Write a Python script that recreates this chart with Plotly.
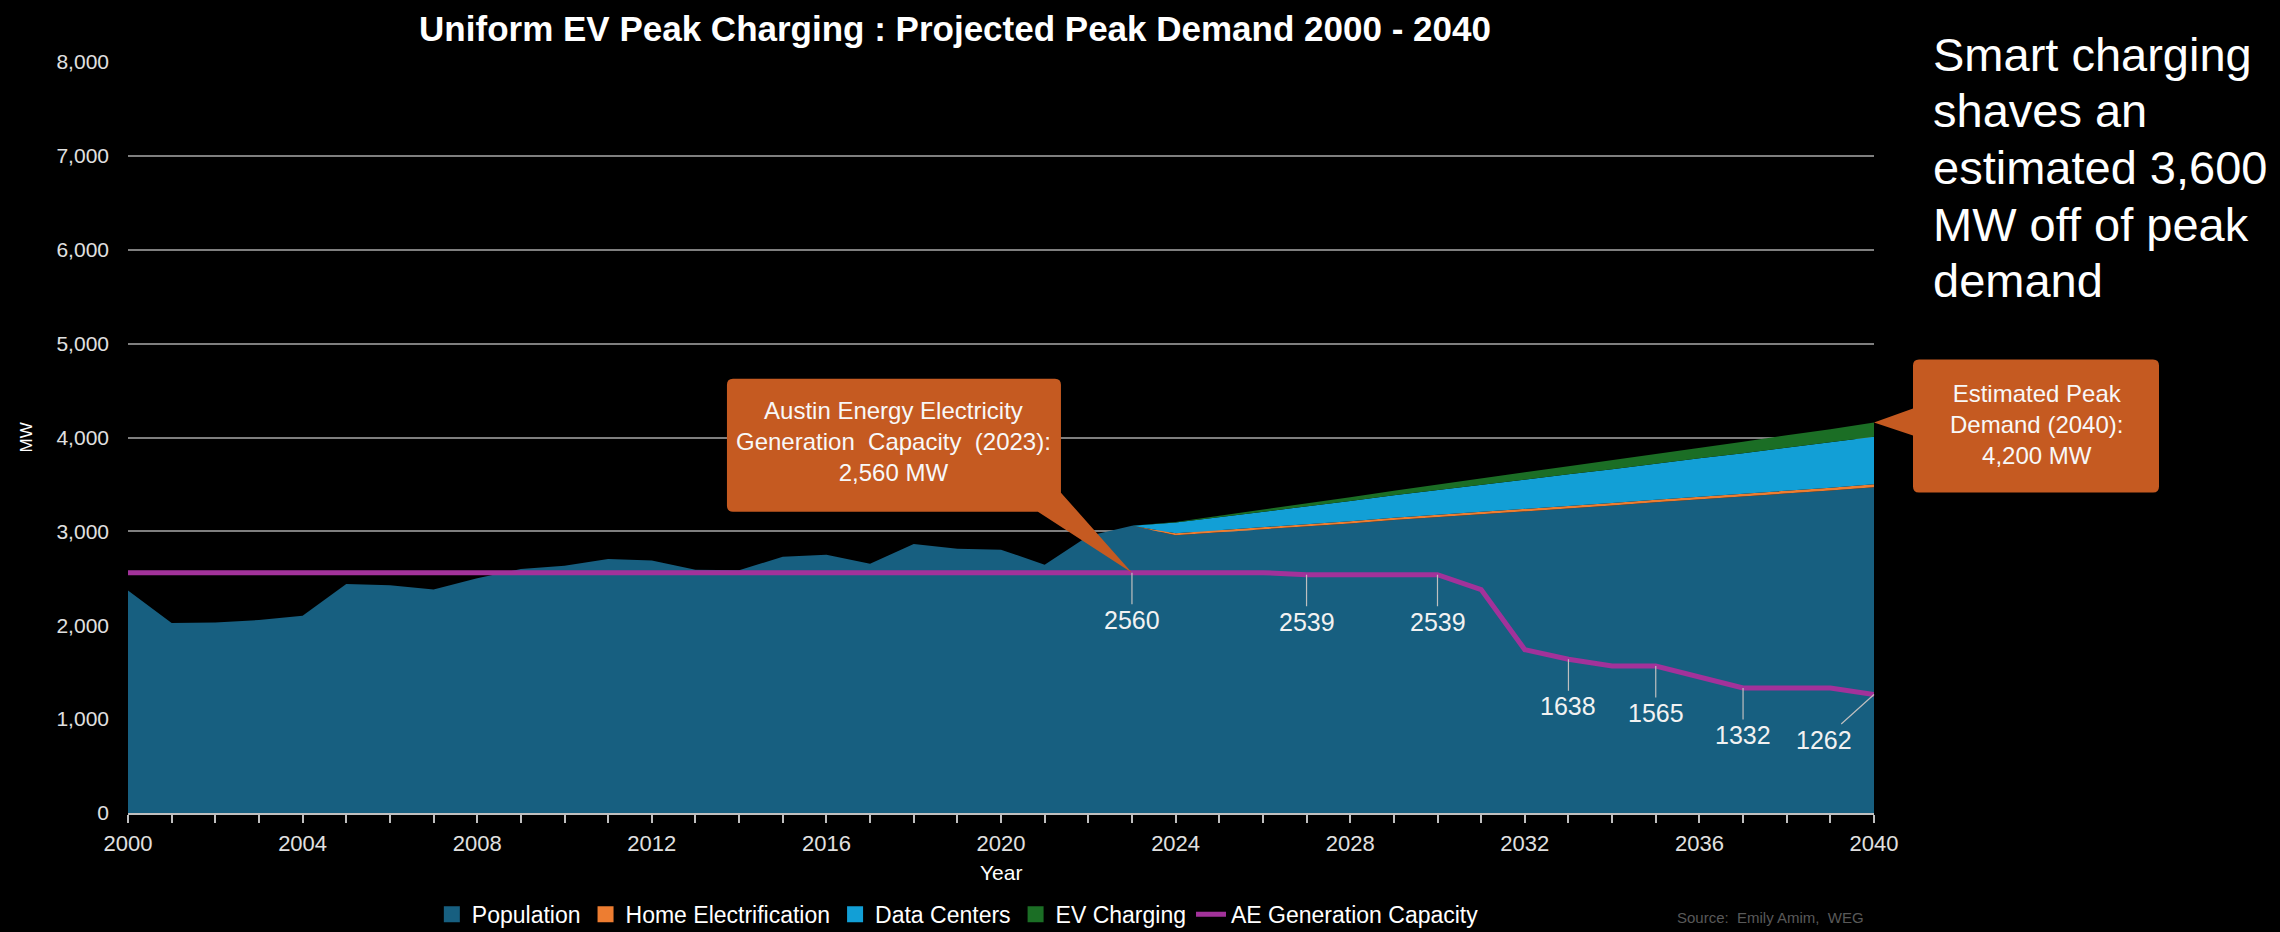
import plotly.graph_objects as go

# ---------------- data ----------------
years = list(range(2000, 2041))
proj_years = list(range(2023, 2041))

population = [2370, 2025, 2030, 2055, 2100, 2440, 2425, 2380, 2500, 2600,
              2635, 2705, 2690, 2590, 2585, 2730, 2750, 2655, 2865, 2815,
              2805, 2645, 2950, 3060, 2960, 2990, 3020, 3055, 3085, 3120,
              3150, 3180, 3215, 3245, 3275, 3310, 3340, 3370, 3405, 3435, 3470]
home_electrification = [0, 20, 21, 22, 22, 23, 24, 24, 25, 26, 26, 27, 28, 28, 29, 30, 30, 31]
data_centers = [0, 115, 140, 165, 190, 215, 240, 264, 288, 312, 337, 361, 385, 410, 434, 459, 483, 508]
ev_charging = [0, 5, 14, 23, 32, 41, 50, 59, 68, 77, 86, 95, 104, 113, 122, 131, 140, 150]
ae_capacity = [2560] * 27 + [2539, 2539, 2539, 2539, 2380, 1740, 1638, 1565, 1565,
                             1450, 1332, 1332, 1332, 1262]
label_years = [2023, 2027, 2030, 2033, 2035, 2037, 2040]

series_names = ["Population", "Home Electrification", "Data Centers", "EV Charging"]
C_POP = "#175F80"
C_HOME = "#ED7D31"
C_DC = "#129FD6"
C_EV = "#1B6E25"
C_AE = "#A2329A"
C_BOX = "#C55A21"
FONT = "Liberation Sans, Arial, sans-serif"

fig = go.Figure()
stack = [(years, population, C_POP), (proj_years, home_electrification, C_HOME),
         (proj_years, data_centers, C_DC), (proj_years, ev_charging, C_EV)]
for name, (xs, ys, col) in zip(series_names, stack):
    fig.add_trace(go.Scatter(x=xs, y=ys, name=name, stackgroup="d", mode="lines",
                             line=dict(width=0, color=col), fillcolor=col, showlegend=False))
# legend swatches (square)
for name, (xs, ys, col) in zip(series_names, stack):
    fig.add_trace(go.Scatter(x=[None], y=[None], name=name, mode="markers",
                             marker=dict(symbol="square", size=16, color=col)))
fig.add_trace(go.Scatter(x=years, y=ae_capacity, name="AE Generation Capacity",
                         mode="lines", line=dict(width=5, color=C_AE)))

# data labels on AE capacity
for yr in label_years:
    v = ae_capacity[years.index(yr)]
    ax, ay = (0, 47)
    if yr == 2040:
        ax, ay = (-50, 45)
    fig.add_annotation(x=yr, y=v, xref="x", yref="y", text=str(v), showarrow=True,
                       arrowhead=0, arrowwidth=1.2, arrowcolor="#bfbfbf", ax=ax, ay=ay,
                       standoff=0, font=dict(family=FONT, size=25, color="#f2f2f2"))

# callout 1 (2023 capacity)
cap_2023 = ae_capacity[years.index(2023)]
r = 6
L, R, T, B = -405, -71, 194, 61
path1 = (f"M{L+r},{T} L{R-r},{T} Q{R},{T} {R},{T-r} L{R},80 L0,0 L-94,{B} "
         f"L{L+r},{B} Q{L},{B} {L},{B+r} L{L},{T-r} Q{L},{T} {L+r},{T} Z")
fig.add_shape(type="path", xref="x", yref="y", xsizemode="pixel", ysizemode="pixel",
              xanchor=2023, yanchor=cap_2023, path=path1, fillcolor=C_BOX,
              line=dict(width=0), layer="above")
fig.add_annotation(x=2023, y=cap_2023, xref="x", yref="y", xshift=-238, yshift=131,
                   xanchor="center", yanchor="middle", showarrow=False, align="center",
                   text="Austin Energy Electricity<br>Generation&nbsp; Capacity&nbsp; (2023):<br>2,560 MW",
                   font=dict(family=FONT, size=24, color="#f8f8f8"))

# callout 2 (2040 peak)
total_2040 = population[-1] + home_electrification[-1] + data_centers[-1] + ev_charging[-1]
L, R, T, B = 39, 285, 63, -70
path2 = (f"M{L+r},{T} L{R-r},{T} Q{R},{T} {R},{T-r} L{R},{B+r} Q{R},{B} {R-r},{B} "
         f"L{L+r},{B} Q{L},{B} {L},{B+r} L{L},-13 L0,0 L{L},14 L{L},{T-r} Q{L},{T} {L+r},{T} Z")
fig.add_shape(type="path", xref="paper", yref="y", xsizemode="pixel", ysizemode="pixel",
              xanchor=1, yanchor=total_2040, path=path2, fillcolor=C_BOX,
              line=dict(width=0), layer="above")
fig.add_annotation(x=1, y=total_2040, xref="paper", yref="y", xshift=162, yshift=-2,
                   xanchor="center", yanchor="middle", showarrow=False, align="center",
                   text="Estimated Peak<br>Demand (2040):<br>4,200 MW",
                   font=dict(family=FONT, size=24, color="#f8f8f8"))

# right-hand message
PL, PT, PW, PH = 128.3, 61.5, 1745.7, 752.0
msg = ["Smart charging", "shaves an", "estimated 3,600", "MW off of peak", "demand"]
msg_y = [54, 110, 167, 224, 280]
for line, py in zip(msg, msg_y):
    fig.add_annotation(x=(1931 - PL) / PW, y=(PT + PH - py) / PH, xref="paper", yref="paper",
                       xanchor="left", yanchor="middle", showarrow=False, text=line,
                       font=dict(family=FONT, size=47, color="#ffffff"))

# axis titles & source
fig.add_annotation(x=0, y=0.5, xref="paper", yref="paper", xshift=-102, textangle=-90,
                   xanchor="center", yanchor="middle",
                   showarrow=False, text="MW", font=dict(family=FONT, size=17, color="#ffffff"))
fig.add_annotation(x=0.5, y=(PT + PH - 873) / PH, xref="paper", yref="paper",
                   yanchor="middle", showarrow=False, text="Year",
                   font=dict(family=FONT, size=21, color="#ffffff"))
fig.add_annotation(x=(1866 - PL) / PW, y=(PT + PH - 918) / PH, xref="paper", yref="paper",
                   xanchor="right", yanchor="middle", showarrow=False,
                   text="Source:&nbsp; Emily Amim,&nbsp; WEG",
                   font=dict(family=FONT, size=15, color="#595959"))

fig.update_layout(
    width=2280, height=932,
    paper_bgcolor="#000000", plot_bgcolor="#000000",
    margin=dict(l=128, r=406, t=61.5, b=118.5, autoexpand=False),
    title=dict(text="<b>Uniform EV Peak Charging : Projected Peak Demand 2000 - 2040</b>",
               x=955 / 2280, xanchor="center", xref="container",
               y=1 - 29 / 932, yanchor="middle",
               font=dict(family=FONT, size=35, color="#ffffff")),
    showlegend=True,
    legend=dict(orientation="h", x=(958 - PL) / PW, xanchor="center",
                y=(PT + PH - 915) / PH, yanchor="middle", traceorder="normal",
                font=dict(family=FONT, size=23, color="#ffffff"),
                bgcolor="rgba(0,0,0,0)", itemwidth=30, borderwidth=0),
    xaxis=dict(range=[2000, 2040], tick0=2000, dtick=4, showgrid=False, zeroline=False,
               showline=True, linecolor="#bfbfbf", linewidth=2, automargin=False,
               ticks="outside", ticklen=8, tickwidth=1.5, tickcolor="#bfbfbf",
               ticklabelstandoff=2,
               minor=dict(dtick=1, ticks="outside", ticklen=8, tickwidth=1.5,
                          tickcolor="#bfbfbf", showgrid=False),
               tickfont=dict(family=FONT, size=22, color="#e0e0e0")),
    yaxis=dict(range=[0, 8000], dtick=1000, showgrid=True, gridcolor="#7f7f7f",
               gridwidth=2, zeroline=False, tickformat=",d", ticks="", automargin=False,
               ticklabelstandoff=18,
               tickfont=dict(family=FONT, size=21, color="#e0e0e0")),
)

fig.write_html("out.html", config={"displayModeBar": False},
               post_script="document.body.style.margin='0';document.body.style.overflow='hidden';")
